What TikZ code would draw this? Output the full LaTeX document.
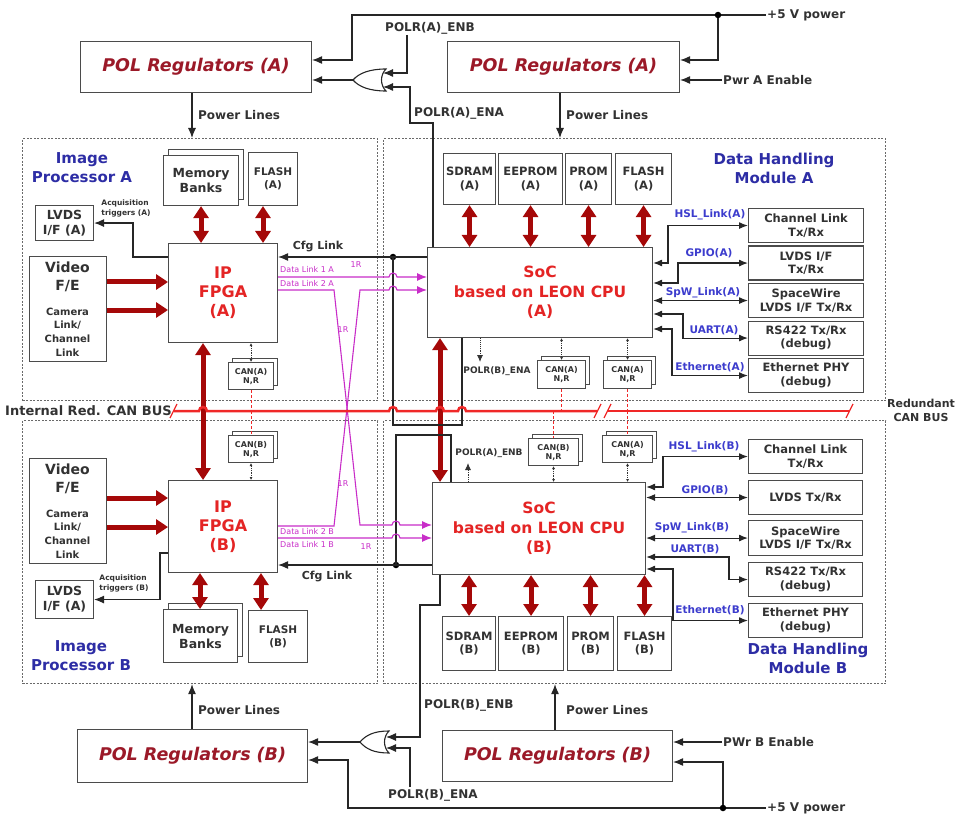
\documentclass[tikz,border=0pt]{standalone}
\usepackage{fontspec}
\setmainfont{DejaVu Sans}
\usetikzlibrary{
  arrows.meta, % 箭头样式
  shadows,     % 叠放方框（copy shadow）
  positioning  % 节点相对定位
}
\definecolor{boxgray}{RGB}{75,75,75}
\definecolor{txtgray}{RGB}{50,50,50}
\definecolor{areagray}{RGB}{105,105,105}
\definecolor{polred}{RGB}{155,25,40}
\definecolor{cpured}{RGB}{228,36,36}
\definecolor{arrowred}{RGB}{165,8,8}
\definecolor{busred}{RGB}{240,40,40}
\definecolor{areablue}{RGB}{45,45,165}
\definecolor{linkblue}{RGB}{60,60,205}
\definecolor{linkmag}{RGB}{200,45,200}
\tikzset{
  region/.style={
    draw=areagray, line width=1.1pt, dash pattern=on 2pt off 1.5pt,
    anchor=north west, inner sep=0pt
  },
  blk/.style={
    draw=boxgray, line width=1.1pt, fill=white, align=center,
    text=txtgray, inner sep=1pt, anchor=north west,
    font=\bfseries\fontsize{11.5}{13.5}\selectfont
  },
  pol box/.style={blk, text=polred, font=\bfseries\itshape\fontsize{17.5}{20}\selectfont},
  core box/.style={blk, text=cpured, font=\bfseries\fontsize{15.5}{19.5}\selectfont},
  can box/.style={
    blk, font=\bfseries\fontsize{8}{9}\selectfont,
    copy shadow={shadow xshift=4pt, shadow yshift=4pt, draw=boxgray, fill=white, line width=1.1pt}
  },
  mem box/.style={
    blk, font=\bfseries\fontsize{12.5}{15}\selectfont,
    copy shadow={shadow xshift=5pt, shadow yshift=6pt, draw=boxgray, fill=white, line width=1.1pt}
  },
  video big/.style={align=center, text=txtgray, inner sep=0pt, font=\bfseries\fontsize{14}{18}\selectfont},
  video small/.style={align=center, text=txtgray, inner sep=0pt, font=\bfseries\fontsize{10}{13.7}\selectfont},
  area label/.style={align=center, text=areablue, font=\bfseries\fontsize{15}{19}\selectfont, inner sep=0pt},
  link label/.style={text=linkblue, font=\bfseries\fontsize{10.5}{12}\selectfont, inner sep=0pt},
  lbl/.style={text=txtgray, font=\bfseries\fontsize{12}{14}\selectfont, inner sep=1pt},
  small lbl/.style={text=txtgray, font=\bfseries\fontsize{9}{10}\selectfont, inner sep=0pt},
  tiny lbl/.style={text=txtgray, align=left, font=\bfseries\fontsize{7.5}{10}\selectfont, inner sep=0pt},
  dl lbl/.style={text=linkmag, font=\fontsize{8}{9}\selectfont, inner sep=0pt},
  wire/.style={draw=black!85, line width=1.1pt},
  sig/.style={wire, -{Latex[length=10pt,width=8pt]}},
  bisig/.style={wire, {Latex[length=9pt,width=7pt]}-{Latex[length=9pt,width=7pt]}},
  gate/.style={draw=black!85, line width=1.1pt, fill=white},
  junction/.style={circle, fill=black, inner sep=0pt, minimum size=6.5pt},
  mem arrow/.style={
    draw=arrowred, line width=5pt,
    {Triangle[length=12pt,width=15pt]}-{Triangle[length=12pt,width=15pt]}
  },
  video arrow/.style={draw=arrowred, line width=5pt, -{Triangle[length=12pt,width=15pt]}},
  data link/.style={draw=linkmag, line width=1.1pt, -{Latex[length=10pt,width=8pt]}},
  can bus/.style={draw=busred, line width=2.5pt},
  bus tick/.style={draw=busred, line width=1.3pt},
  can tap/.style={draw=busred, line width=0.9pt, dash pattern=on 3pt off 2pt},
  can ctrl/.style={
    draw=black!80, line width=0.9pt, densely dotted,
    {Latex[length=3pt,width=3pt]}-{Latex[length=3pt,width=3pt]}
  },
  ctrl arrow/.style={draw=black!80, line width=0.9pt, densely dotted, -{Latex[length=7pt,width=6pt]}}
}

\begin{document}
\begin{tikzpicture}[x=1pt, y=-1pt]
  \useasboundingbox (0,0) rectangle (958,818);

  % ======================= 虚线功能区 =======================
  \node[region, minimum width=355pt, minimum height=262pt] (ipA) at (22,138) {};
  \node[region, minimum width=502pt, minimum height=262pt] (dhmA) at (383,138) {};
  \node[region, minimum width=355pt, minimum height=263pt] (ipB) at (22,420) {};
  \node[region, minimum width=502pt, minimum height=263pt] (dhmB) at (383,420) {};
  \node[area label] (ipAl) at (82,168) {Image\\Processor A};
  \node[area label] (dhmAl) at (774,168) {Data Handling\\Module A};
  \node[area label] (ipBl) at (81,656) {Image\\Processor B};
  \node[area label] (dhmBl) at (808,658) {Data Handling\\Module B};

  % ======================= 电源（上） =======================
  \node[pol box, minimum width=231pt, minimum height=51pt] (polAL) at (80,41) {POL Regulators (A)};
  \node[pol box, minimum width=232pt, minimum height=51pt] (polAR) at (447,41) {POL Regulators (A)};
  \node[lbl, anchor=west] (pwrA) at (766,15) {+5 V power};
  \node[lbl, anchor=west] (enA) at (722,80) {Pwr A Enable};
  \node[lbl] (enbA) at (430,28) {POLR(A)\_ENB};
  \node[lbl, anchor=west] (enaA) at (413,113) {POLR(A)\_ENA};
  \node[lbl, anchor=west] (plAL) at (197,115) {Power Lines};
  \node[lbl, anchor=west] (plAR) at (565,115) {Power Lines};
  % 或门 A
  \draw[gate] (386,69) .. controls (370,69) and (359,73) .. (353,80)
    .. controls (359,87) and (370,91) .. (386,91)
    .. controls (380,85) and (380,75) .. (386,69) -- cycle;
  \coordinate (orAo) at (353,80);
  \coordinate (orA1) at (383,73);
  \coordinate (orA2) at (383,87);

  % ======================= 电源（下） =======================
  \node[pol box, minimum width=230pt, minimum height=53pt] (polBL) at (77,729) {POL Regulators (B)};
  \node[pol box, minimum width=230pt, minimum height=51pt] (polBR) at (442,730) {POL Regulators (B)};
  \node[lbl, anchor=west] (pwrB) at (766,808) {+5 V power};
  \node[lbl, anchor=west] (enB) at (722,742) {PWr B Enable};
  \node[lbl, anchor=west] (enbB) at (423,705) {POLR(B)\_ENB};
  \node[lbl, anchor=west] (enaB) at (387,795) {POLR(B)\_ENA};
  \node[lbl, anchor=west] (plBL) at (197,710) {Power Lines};
  \node[lbl, anchor=west] (plBR) at (565,710) {Power Lines};
  % 或门 B
  \draw[gate] (389,731) .. controls (374,731) and (366,735) .. (360,742)
    .. controls (366,749) and (374,753) .. (389,753)
    .. controls (383,747) and (383,737) .. (389,731) -- cycle;
  \coordinate (orBo) at (360,742);
  \coordinate (orB1) at (386,737);
  \coordinate (orB2) at (386,748);

  % ======================= 图像处理器 A =======================
  \node[mem box, minimum width=75pt, minimum height=50pt] (memA) at (163,155) {Memory\\Banks};
  \node[blk, font=\bfseries\fontsize{10.5}{13}\selectfont, minimum width=49pt, minimum height=53pt] (flIA) at (248,152) {FLASH\\(A)};
  \node[core box, font=\bfseries\fontsize{16}{19}\selectfont, minimum width=109pt, minimum height=99pt] (fpgaA) at (168,243) {IP\\FPGA\\(A)};
  \node[blk, font=\bfseries\fontsize{12.5}{15}\selectfont, minimum width=58pt, minimum height=35pt] (lvdsA) at (35,205) {LVDS\\I/F (A)};
  \node[blk, minimum width=77pt, minimum height=105pt] (vidA) at (29,256) {};
  \node[video big] (vidAt) at (67.5,277) {Video\\F/E};
  \node[video small] (vidAs) at (67.5,332) {Camera\\Link/\\Channel\\Link};
  \node[can box, minimum width=45pt, minimum height=27pt] (canIA) at (228,362) {CAN(A)\\N,R};
  \node[tiny lbl] (acqA) at (126,208) {Acquisition\\triggers (A)};
  \node[lbl, font=\bfseries\fontsize{11}{13}\selectfont] (cfgAl) at (318,247) {Cfg Link};
  \node[dl lbl, anchor=west] (dl1Al) at (280,270) {Data Link 1 A};
  \node[dl lbl, anchor=west] (dl2Al) at (280,283.5) {Data Link 2 A};

  % ======================= 图像处理器 B =======================
  \node[can box, minimum width=45pt, minimum height=27pt] (canIB) at (228,435) {CAN(B)\\N,R};
  \node[core box, font=\bfseries\fontsize{16}{19}\selectfont, minimum width=109pt, minimum height=92pt] (fpgaB) at (168,480) {IP\\FPGA\\(B)};
  \node[blk, minimum width=77pt, minimum height=105pt] (vidB) at (29,458) {};
  \node[video big] (vidBt) at (67.5,479) {Video\\F/E};
  \node[video small] (vidBs) at (67.5,534) {Camera\\Link/\\Channel\\Link};
  \node[blk, font=\bfseries\fontsize{12.5}{15}\selectfont, minimum width=58pt, minimum height=38pt] (lvdsB) at (35,580) {LVDS\\I/F (A)};
  \node[mem box, minimum width=74pt, minimum height=53pt] (memB) at (163,609) {Memory\\Banks};
  \node[blk, font=\bfseries\fontsize{10.5}{13}\selectfont, minimum width=59pt, minimum height=52pt] (flIB) at (248,610) {FLASH\\(B)};
  \node[tiny lbl] (acqB) at (124,583) {Acquisition\\triggers (B)};
  \node[lbl, font=\bfseries\fontsize{11}{13}\selectfont] (cfgBl) at (327,577) {Cfg Link};
  \node[dl lbl, anchor=west] (dl2Bl) at (280,532) {Data Link 2 B};
  \node[dl lbl, anchor=west] (dl1Bl) at (280,545) {Data Link 1 B};
  \node[dl lbl] (r1a) at (356,265) {1R};
  \node[dl lbl] (r1b) at (343,330) {1R};
  \node[dl lbl] (r1c) at (343,484) {1R};
  \node[dl lbl] (r1d) at (366,547) {1R};

  % ======================= 数据处理模块 A =======================
  \node[blk, minimum width=52pt, minimum height=51pt] (sdA) at (443,153) {SDRAM\\(A)};
  \node[blk, minimum width=64pt, minimum height=51pt] (eeA) at (498,153) {EEPROM\\(A)};
  \node[blk, minimum width=46pt, minimum height=51pt] (prA) at (565,153) {PROM\\(A)};
  \node[blk, minimum width=56pt, minimum height=51pt] (flA) at (615,153) {FLASH\\(A)};
  \node[core box, minimum width=225pt, minimum height=90pt] (socA) at (427,247) {SoC\\based on LEON CPU\\(A)};
  \node[can box, minimum width=48pt, minimum height=28pt] (canA1) at (537,360) {CAN(A)\\N,R};
  \node[can box, minimum width=48pt, minimum height=28pt] (canA2) at (603,360) {CAN(A)\\N,R};
  \node[small lbl] (enaBs) at (497,371) {POLR(B)\_ENA};
  \node[blk, minimum width=115pt, minimum height=34pt] (chA) at (748,208) {Channel Link\\Tx/Rx};
  \node[blk, minimum width=115pt, minimum height=34pt] (lvA) at (748,245.5) {LVDS I/F\\Tx/Rx};
  \node[blk, minimum width=115pt, minimum height=34pt] (swA) at (748,283) {SpaceWire\\LVDS I/F Tx/Rx};
  \node[blk, minimum width=115pt, minimum height=34pt] (rsA) at (748,320.5) {RS422 Tx/Rx\\(debug)};
  \node[blk, minimum width=115pt, minimum height=34pt] (etA) at (748,358) {Ethernet PHY\\(debug)};
  \node[link label] (hslAl) at (710,215) {HSL\_Link(A)};
  \node[link label] (gpAl) at (709,253) {GPIO(A)};
  \node[link label] (swAl) at (703,293) {SpW\_Link(A)};
  \node[link label] (uaAl) at (714,330) {UART(A)};
  \node[link label] (etAl) at (710,367) {Ethernet(A)};

  % ======================= 数据处理模块 B =======================
  \node[can box, minimum width=50pt, minimum height=27pt] (canB1) at (528,438) {CAN(B)\\N,R};
  \node[can box, minimum width=50pt, minimum height=27pt] (canB2) at (602,435) {CAN(A)\\N,R};
  \node[small lbl] (enbAs) at (489,453) {POLR(A)\_ENB};
  \node[core box, minimum width=213pt, minimum height=92pt] (socB) at (432,482) {SoC\\based on LEON CPU\\(B)};
  \node[blk, minimum width=53pt, minimum height=54pt] (sdB) at (442,616) {SDRAM\\(B)};
  \node[blk, minimum width=65pt, minimum height=54pt] (eeB) at (498,616) {EEPROM\\(B)};
  \node[blk, minimum width=46pt, minimum height=54pt] (prB) at (567,616) {PROM\\(B)};
  \node[blk, minimum width=54pt, minimum height=54pt] (flB) at (617,616) {FLASH\\(B)};
  \node[blk, minimum width=114pt, minimum height=34pt] (chB) at (748,439) {Channel Link\\Tx/Rx};
  \node[blk, minimum width=114pt, minimum height=34pt] (lvB) at (748,480) {LVDS Tx/Rx};
  \node[blk, minimum width=114pt, minimum height=35pt] (swB) at (748,520) {SpaceWire\\LVDS I/F Tx/Rx};
  \node[blk, minimum width=114pt, minimum height=34pt] (rsB) at (748,562) {RS422 Tx/Rx\\(debug)};
  \node[blk, minimum width=114pt, minimum height=34pt] (etB) at (748,603) {Ethernet PHY\\(debug)};
  \node[link label] (hslBl) at (704,447) {HSL\_Link(B)};
  \node[link label] (gpBl) at (705,490) {GPIO(B)};
  \node[link label] (swBl) at (692,528) {SpW\_Link(B)};
  \node[link label] (uaBl) at (695,549) {UART(B)};
  \node[link label] (etBl) at (710,610) {Ethernet(B)};

  % ======================= 电源连线 =======================
  \draw[sig] (pwrA.west) -- (352,15) -- (352,60) -- (polAL.east |- 0,60);
  \node[junction] (jA) at (718,15) {};
  \draw[sig] (jA) -- (718,60) -- (polAR.east |- 0,60);
  \draw[sig] (enA.west) -- (polAR.east |- enA.west);
  \draw[sig] (orAo) -- (polAL.east |- orAo);
  \draw[sig] (407,35) -- (407,73) -- (orA1);
  \draw[sig] (socA.north -| 433,0) -- (433,123) -- (410,123) -- (410,87) -- (orA2);
  \draw[sig] (polAL.south -| 192,0) -- (ipA.north -| 192,0);
  \draw[sig] (polAR.south -| 560,0) -- (dhmA.north -| 560,0);

  \draw[sig] (pwrB.west) -- (348,808) -- (348,760) -- (polBL.east |- 0,760);
  \node[junction] (jB) at (723,808) {};
  \draw[sig] (jB) -- (723,762) -- (polBR.east |- 0,762);
  \draw[sig] (enB.west) -- (polBR.east |- enB.west);
  \draw[sig] (orBo) -- (polBL.east |- orBo);
  \draw[sig] (socB.south -| 440,0) -- (440,605) -- (420,605) -- (420,737) -- (orB1);
  \draw[sig] (410,787) -- (410,748) -- (orB2);
  \draw[sig] (polBL.north -| 192,0) -- (ipB.south -| 192,0);
  \draw[sig] (polBR.north -| 555,0) -- (dhmB.south -| 555,0);

  % ======================= 存储器双向总线 =======================
  \draw[mem arrow] (memA.south) -- (memA.south |- fpgaA.north);
  \draw[mem arrow] (flIA.south -| 263,0) -- (fpgaA.north -| 263,0);
  \draw[mem arrow] (fpgaB.south -| 200,0) -- (memB.north -| 200,0);
  \draw[mem arrow] (fpgaB.south -| 261,0) -- (flIB.north -| 261,0);
  \draw[mem arrow] (fpgaA.south -| 203,0) -- (fpgaB.north -| 203,0);
  \draw[mem arrow] (socA.south -| 440,0) -- (socB.north -| 440,0);
  \draw[mem arrow] (sdA.south) -- (sdA.south |- socA.north);
  \draw[mem arrow] (eeA.south) -- (eeA.south |- socA.north);
  \draw[mem arrow] (prA.south) -- (prA.south |- socA.north);
  \draw[mem arrow] (flA.south) -- (flA.south |- socA.north);
  \draw[mem arrow] (socB.south -| sdB.north) -- (sdB.north);
  \draw[mem arrow] (socB.south -| eeB.north) -- (eeB.north);
  \draw[mem arrow] (socB.south -| prB.north) -- (prB.north);
  \draw[mem arrow] (socB.south -| flB.north) -- (flB.north);
  \draw[video arrow] (vidA.east |- 0,282) -- (fpgaA.west |- 0,282);
  \draw[video arrow] (vidA.east |- 0,310) -- (fpgaA.west |- 0,310);
  \draw[video arrow] (vidB.east |- 0,498) -- (fpgaB.west |- 0,498);
  \draw[video arrow] (vidB.east |- 0,527) -- (fpgaB.west |- 0,527);

  % ======================= 采集触发与配置链路 =======================
  \draw[sig] (fpgaA.west |- 0,257) -- (133,257) |- (lvdsA.east);
  \draw[sig] (fpgaB.west |- 0,553) -- (160,553) |- (lvdsB.east);
  \node[junction] (cfgA) at (393,257) {};
  \node[junction] (cfgB) at (396,565) {};
  \draw[sig] (socA.west |- cfgA) -- (fpgaA.east |- cfgA);
  \draw[sig] (socB.west |- cfgB) -- (fpgaB.east |- cfgB);
  \draw[wire] (cfgA.center) -- (393,425) -- (462,425) -- (socA.south -| 462,0);
  \draw[wire] (cfgB.center) -- (396,435) -- (451,435) -- (socB.north -| 451,0);

  % ======================= 交叉数据链路（跨线处加小弧） =======================
  \draw[data link] (fpgaA.east |- 0,277) -- (389,277) arc[start angle=180, end angle=0, radius=4pt] -- (socA.west |- 0,277);
  \draw[data link] (fpgaA.east |- 0,290) -- (334,290) -- (360,525) -- (392,525) arc[start angle=180, end angle=0, radius=4pt] -- (socB.west |- 0,525);
  \draw[data link] (fpgaB.east |- 0,526) -- (334,526) -- (360,290) -- (389,290) arc[start angle=180, end angle=0, radius=4pt] -- (socA.west |- 0,290);
  \draw[data link] (fpgaB.east |- 0,538) -- (392,538) arc[start angle=180, end angle=0, radius=4pt] -- (socB.west |- 0,538);

  % ======================= 外设接口 =======================
  \draw[bisig] (socA.east |- 0,263) -- (668,263) |- (chA.west);
  \draw[bisig] (socA.east |- 0,283) -- (678,283) |- (lvA.west);
  \draw[bisig] (socA.east |- swA.west) -- (swA.west);
  \draw[bisig] (socA.east |- 0,314) -- (683,314) |- (rsA.west);
  \draw[bisig] (socA.east |- 0,329) -- (672,329) |- (etA.west);
  \draw[bisig] (socB.east |- 0,487) -- (663,487) |- (chB.west);
  \draw[bisig] (socB.east |- lvB.west) -- (lvB.west);
  \draw[bisig] (socB.east |- swB.west) -- (swB.west);
  \draw[bisig] (socB.east |- 0,557) -- (729,557) |- (rsB.west);
  \draw[bisig] (socB.east |- 0,569) -- (673,569) |- (etB.west);

  % ======================= 电源使能（虚线） =======================
  \draw[ctrl arrow] (socA.south -| 480,0) -- (480,362);
  \draw[ctrl arrow] (socB.north -| 468,0) -- (468,463);

  % ======================= CAN 总线 =======================
  \node[lbl, font=\bfseries\fontsize{13}{15}\selectfont, anchor=west] (busL) at (4,411) {Internal Red. CAN BUS};
  \node[lbl, font=\bfseries\fontsize{11}{14}\selectfont, align=center] (busR) at (921,410) {Redundant\\CAN BUS};
  \draw[can bus] (174,411) -- (199,411) arc[start angle=180, end angle=0, radius=4pt]
    -- (389,411) arc[start angle=180, end angle=0, radius=4pt]
    -- (436,411) arc[start angle=180, end angle=0, radius=4pt]
    -- (458,411) arc[start angle=180, end angle=0, radius=4pt]
    -- (597,411);
  \draw[can bus] (607,411) -- (849,411);
  \draw[bus tick] (170,418) -- (177,404);
  \draw[bus tick] (594,418) -- (601,404);
  \draw[bus tick] (604,418) -- (611,404);
  \draw[bus tick] (846,418) -- (853,404);
  \draw[can tap] (canIA.south) -- (canIA.south |- 0,411);
  \draw[can tap] (canIB.north |- 0,411) -- (canIB.north);
  \draw[can tap] (canA1.south) -- (canA1.south |- 0,411);
  \draw[can tap] (canA2.south) -- (canA2.south |- 0,411);
  \draw[can tap] (canB1.north |- 0,411) -- (canB1.north);
  \draw[can tap] (canB2.north |- 0,411) -- (canB2.north);
  \draw[can ctrl] (canIA.north |- fpgaA.south) -- (canIA.north);
  \draw[can ctrl] (canIB.south) -- (canIB.south |- fpgaB.north);
  \draw[can ctrl] (canA1.north |- socA.south) -- (canA1.north);
  \draw[can ctrl] (canA2.north |- socA.south) -- (canA2.north);
  \draw[can ctrl] (canB1.south) -- (canB1.south |- socB.north);
  \draw[can ctrl] (canB2.south) -- (canB2.south |- socB.north);

\end{tikzpicture}
\end{document}
